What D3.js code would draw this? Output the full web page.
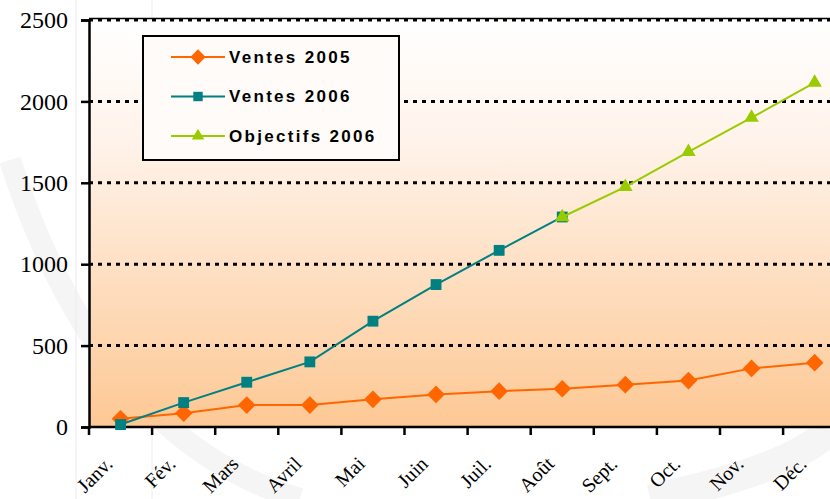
<!DOCTYPE html>
<html>
<head>
<meta charset="utf-8">
<script src="https://cdn.jsdelivr.net/npm/d3@7"></script>
<style>
  body { margin: 0; background: #fff; }
  svg { display: block; }
  .axis text { font-family: 'Liberation Serif', 'Times New Roman', serif; fill: #000; }
  .legend text { font-family: 'Liberation Sans', Arial, sans-serif; font-weight: bold; font-size: 17px; letter-spacing: 2.3px; }
</style>
</head>
<body>
<svg id="chart" width="830" height="499"></svg>
<script>
// DATA
const months = ['Janv.', 'Fév.', 'Mars', 'Avril', 'Mai', 'Juin', 'Juil.', 'Août', 'Sept.', 'Oct.', 'Nov.', 'Déc.'];
const ventes2005 = [50, 85, 135, 135, 170, 200, 220, 235, 260, 285, 360, 395];
const ventes2006 = [15, 150, 275, 400, 650, 875, 1085, 1290, null, null, null, null];
const objectifs2006 = [null, null, null, null, null, null, null, 1290, 1475, 1690, 1900, 2115];
const yTicks = [0, 500, 1000, 1500, 2000, 2500];

const series = [
  { name: 'Ventes 2005', values: ventes2005, color: '#ff6600', symbol: d3.symbolDiamond2, size: 200 },
  { name: 'Ventes 2006', values: ventes2006, color: '#008080', symbol: d3.symbolSquare2, size: 150 },
  { name: 'Objectifs 2006', values: objectifs2006, color: '#99cc00', symbol: d3.symbolTriangle2, size: 150 }
];

// SETUP
const svg = d3.select('#chart'),
  margin = { top: 20, left: 89, bottom: 72 },
  bandW = 63.1,
  height = 499 - margin.top - margin.bottom;

const x = d3.scaleBand().domain(months).range([margin.left, margin.left + bandW * months.length]);
const y = d3.scaleLinear().domain([0, 2500]).range([margin.top + height, margin.top]);

// GRADIENT
const grad = svg.append('defs').append('linearGradient')
  .attr('id', 'bg').attr('x1', 0).attr('y1', 0).attr('x2', 0).attr('y2', 1);
grad.append('stop').attr('offset', '0%').attr('stop-color', '#ffffff');
grad.append('stop').attr('offset', '30%').attr('stop-color', '#fff3ea');
grad.append('stop').attr('offset', '100%').attr('stop-color', '#fdc894');

// faint watermark
const wm = svg.append('g').attr('fill', 'none').attr('stroke', '#f5f5f5');
wm.append('path').attr('stroke-width', 22)
  .attr('d', 'M10,160 Q100,440 300,499');
wm.append('path').attr('stroke-width', 30)
  .attr('d', 'M650,499 Q790,470 830,430');
[76, 152].forEach(function (gx) {
  wm.append('line').attr('x1', gx).attr('x2', gx).attr('y1', 0).attr('y2', 499).attr('stroke-width', 1).attr('stroke', '#ebebeb');
});

// PLOT AREA
svg.append('rect')
  .attr('x', margin.left).attr('y', y(2500))
  .attr('width', 830 - margin.left).attr('height', y(0) - y(2500))
  .attr('fill', 'url(#bg)');

// GRID
svg.append('g').selectAll('line').data(yTicks.filter(d => d > 0)).join('line')
  .attr('x1', margin.left).attr('x2', 830)
  .attr('y1', d => y(d)).attr('y2', d => y(d))
  .attr('stroke', '#000').attr('stroke-width', 3).attr('stroke-dasharray', '4,5');

svg.append('line')
  .attr('x1', margin.left).attr('x2', 830)
  .attr('y1', y(2500) - 1.5).attr('y2', y(2500) - 1.5)
  .attr('stroke', '#000').attr('stroke-width', 1.5);

// AXES
const yAxis = svg.append('g').attr('class', 'axis')
  .attr('transform', 'translate(' + margin.left + ',0)')
  .call(d3.axisLeft(y).tickValues(yTicks).tickSize(8).tickPadding(13).tickFormat(d3.format('d')));
yAxis.select('.domain').attr('stroke-width', 2.5);
yAxis.selectAll('.tick line').attr('stroke-width', 2.5);
yAxis.selectAll('text').attr('font-size', '24px');

const xAxis = svg.append('g').attr('class', 'axis')
  .attr('transform', 'translate(0,' + y(0) + ')')
  .call(d3.axisBottom(x).tickSize(0).tickSizeOuter(0));
xAxis.select('.domain').attr('stroke-width', 2.5).attr('d', 'M' + margin.left + ',0H830');
xAxis.selectAll('.tick text')
  .attr('font-size', '20px')
  .attr('text-anchor', 'end')
  .attr('dy', 0)
  .attr('transform', 'translate(-9,36) rotate(-45)');
// band boundary ticks
xAxis.append('g').selectAll('line').data(months).join('line')
  .attr('x1', d => x(d)).attr('x2', d => x(d))
  .attr('y1', 0).attr('y2', 8)
  .attr('stroke', '#000').attr('stroke-width', 2.5);

// LINES
const line = d3.line()
  .defined(d => d.v !== null)
  .x(d => x(d.m) + x.bandwidth() / 2)
  .y(d => y(d.v));

series.forEach(function (s) {
  const pts = months.map((m, i) => ({ m: m, v: s.values[i] }));
  svg.append('path').datum(pts)
    .attr('fill', 'none').attr('stroke', s.color).attr('stroke-width', 2)
    .attr('d', line);
  svg.append('g').selectAll('path').data(pts.filter(d => d.v !== null)).join('path')
    .attr('transform', d => 'translate(' + (x(d.m) + x.bandwidth() / 2) + ',' + y(d.v) + ')')
    .attr('d', d3.symbol(s.symbol, s.size))
    .attr('fill', s.color);
});

// LEGEND
const legend = svg.append('g').attr('class', 'legend').attr('transform', 'translate(143,36)');
legend.append('rect')
  .attr('width', 256).attr('height', 124)
  .attr('fill', '#fffbf8')
  .attr('stroke', '#000').attr('stroke-width', 2);
series.forEach(function (s, i) {
  const row = legend.append('g').attr('transform', 'translate(0,' + (21 + i * 39.5) + ')');
  row.append('line').attr('x1', 28).attr('x2', 82).attr('stroke', s.color).attr('stroke-width', 2);
  row.append('path').attr('transform', 'translate(55,0)')
    .attr('d', d3.symbol(s.symbol, s.size * 0.75)).attr('fill', s.color);
  row.append('text').attr('x', 86).attr('dy', '0.35em').text(s.name);
});
</script>
</body>
</html>
